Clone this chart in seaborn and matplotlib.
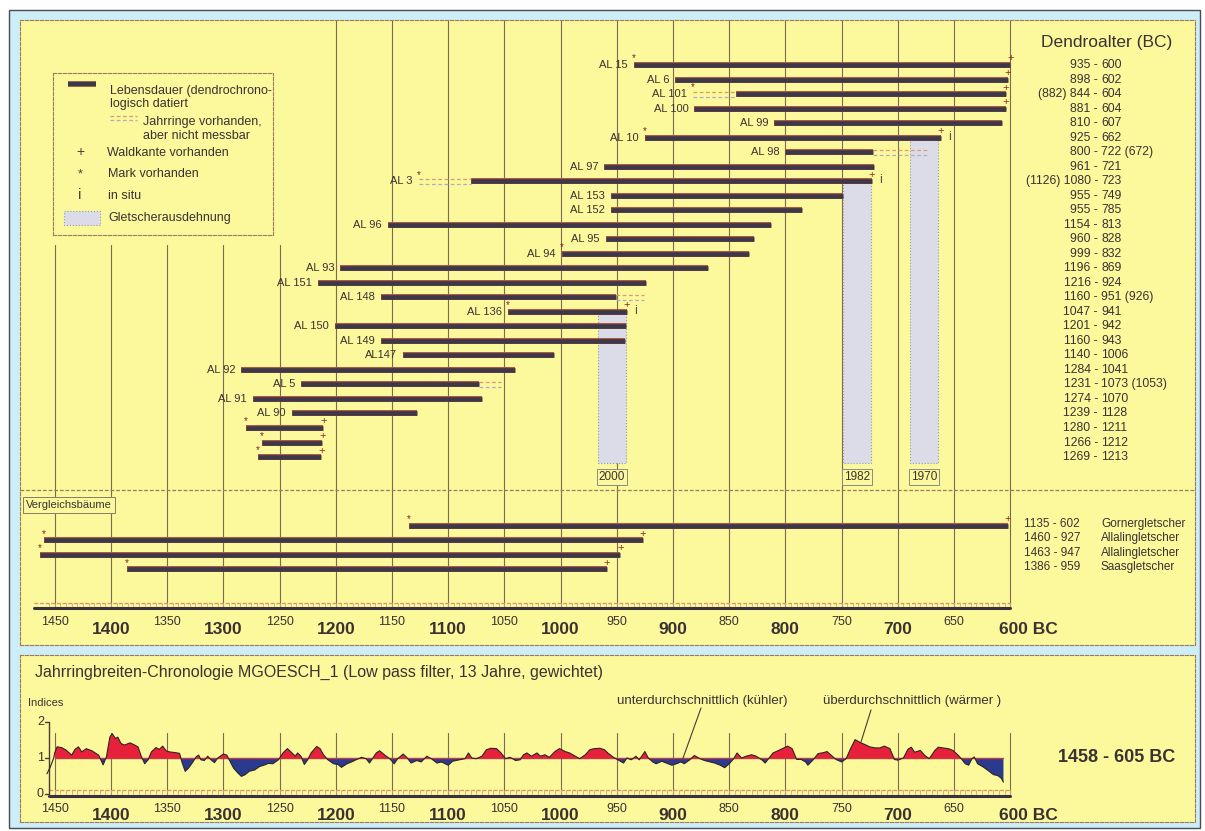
import numpy as np
import pandas as pd
import matplotlib
matplotlib.use("Agg")
import matplotlib.pyplot as plt
from matplotlib.patches import Rectangle
from matplotlib import font_manager
import seaborn as sns

# ---------------------------------------------------------------- data
tree_names = ['AL 15', 'AL 6', 'AL 101', 'AL 100', 'AL 99', 'AL 10', 'AL 98', 'AL 97',
              'AL 3', 'AL 153', 'AL 152', 'AL 96', 'AL 95', 'AL 94', 'AL 93', 'AL 151',
              'AL 148', 'AL 136', 'AL 150', 'AL 149', 'AL147', 'AL 92', 'AL 5', 'AL 91',
              'AL 90', '', '', '']
tree_start = [935, 898, 844, 881, 810, 925, 800, 961, 1080, 955, 955, 1154, 960, 999,
              1196, 1216, 1160, 1047, 1201, 1160, 1140, 1284, 1231, 1274, 1239, 1280, 1266, 1269]
tree_end = [600, 602, 604, 604, 607, 662, 722, 721, 723, 749, 785, 813, 828, 832,
            869, 924, 951, 941, 942, 943, 1006, 1041, 1073, 1070, 1128, 1211, 1212, 1213]
# rings present but not measurable (before start / after end)
tree_pre = [None, None, 882, None, None, None, None, None, 1126, None, None, None, None, None,
            None, None, None, None, None, None, None, None, None, None, None, None, None, None]
tree_post = [None, None, None, None, None, None, 672, None, None, None, None, None, None, None,
             None, None, 926, None, None, None, None, None, 1053, None, None, None, None, None]
# * = Mark, + = Waldkante, i = in situ
tree_marks = ['*+', '+', '*+', '+', '', '*+i', '', '', '*+i', '', '', '', '', '*',
              '', '', '', '*+i', '', '', '', '', '', '', '', '*+', '*+', '*+']

comp_start = [1135, 1460, 1463, 1386]
comp_end = [602, 927, 947, 959]
comp_site = ['Gornergletscher', 'Allalingletscher', 'Allalingletscher', 'Saasgletscher']

glacier_label = ['2000', '1982', '1970']
glacier_from = [967, 749, 689]
glacier_to = [942, 724, 664]
glacier_tree = ['AL 136', 'AL 3', 'AL 10']

idx_year = [1457, 1454, 1451, 1450, 1448, 1444, 1440, 1435, 1432, 1429, 1426, 1422, 1417, 1411,
            1407, 1404, 1401, 1399, 1396, 1394, 1391, 1388, 1383, 1379, 1376, 1373, 1370, 1367,
            1364, 1360, 1357, 1354, 1351, 1348, 1343, 1339, 1337, 1334, 1331, 1328, 1324, 1322,
            1320, 1317, 1314, 1311, 1308, 1305, 1300, 1297, 1294, 1291, 1287, 1284, 1281, 1277,
            1272, 1268, 1263, 1260, 1256, 1251, 1247, 1243, 1239, 1236, 1234, 1231, 1228, 1225,
            1222, 1217, 1214, 1211, 1207, 1202, 1198, 1195, 1190, 1186, 1182, 1177, 1173, 1170,
            1167, 1164, 1161, 1156, 1152, 1148, 1145, 1140, 1137, 1133, 1128, 1124, 1119, 1115,
            1110, 1106, 1100, 1096, 1090, 1085, 1082, 1079, 1075, 1070, 1066, 1062, 1057, 1053,
            1049, 1045, 1040, 1036, 1033, 1030, 1026, 1021, 1018, 1014, 1010, 1005, 1001, 996,
            992, 987, 983, 978, 974, 970, 965, 961, 958, 953, 949, 944, 941, 937, 933, 930,
            925, 922, 918, 915, 910, 906, 901, 897, 893, 890, 885, 881, 876, 872, 867, 863,
            858, 854, 850, 846, 843, 839, 835, 830, 826, 821, 818, 815, 811, 806, 802, 798,
            794, 790, 786, 782, 780, 775, 771, 766, 763, 759, 755, 750, 746, 742, 738, 734,
            729, 725, 720, 716, 712, 707, 703, 700, 695, 691, 688, 685, 680, 676, 672, 667,
            664, 660, 655, 651, 646, 643, 640, 637, 634, 632, 629, 624, 620, 615, 611, 608, 606]
idx_val = [0.56, 0.75, 1.00, 1.15, 1.31, 1.29, 1.22, 1.08, 1.24, 1.31, 1.17, 1.26, 1.20, 1.08,
           0.81, 1.04, 1.58, 1.68, 1.54, 1.58, 1.40, 1.36, 1.42, 1.36, 1.31, 1.04, 0.84, 0.95,
           1.17, 1.29, 1.24, 1.33, 1.20, 1.17, 1.15, 1.13, 0.90, 0.63, 0.72, 0.85, 1.04, 1.08,
           0.95, 0.93, 1.05, 0.95, 0.87, 1.00, 1.11, 1.08, 0.90, 0.72, 0.58, 0.49, 0.53, 0.63,
           0.67, 0.76, 0.81, 0.85, 0.84, 0.95, 1.14, 1.26, 1.14, 1.05, 1.14, 1.05, 0.82, 0.95,
           1.14, 1.32, 1.26, 1.09, 0.95, 0.84, 0.82, 0.74, 0.84, 0.89, 0.95, 1.02, 0.98, 0.86,
           1.00, 1.14, 1.20, 1.07, 0.98, 0.84, 0.98, 1.11, 1.02, 0.86, 0.93, 0.89, 1.05, 0.98,
           0.86, 0.89, 0.80, 0.91, 0.95, 0.98, 1.14, 1.00, 0.98, 1.05, 1.23, 1.27, 1.26, 1.14,
           0.98, 1.02, 0.93, 0.95, 1.09, 1.14, 1.05, 1.14, 1.05, 1.09, 1.02, 1.18, 1.26, 1.18,
           1.14, 1.05, 0.98, 1.09, 1.23, 1.26, 1.27, 1.23, 1.14, 1.02, 0.95, 0.86, 1.00, 0.95,
           1.05, 0.95, 1.18, 1.00, 0.89, 0.84, 0.91, 0.86, 0.80, 0.84, 0.89, 0.84, 0.95, 1.07,
           0.98, 0.93, 0.89, 0.86, 0.80, 0.73, 0.84, 0.98, 1.14, 1.00, 1.05, 1.09, 1.05, 0.95,
           0.86, 0.98, 1.14, 1.21, 1.27, 1.33, 1.26, 0.96, 0.96, 0.89, 0.80, 0.96, 1.12, 1.15,
           1.18, 1.07, 0.96, 0.89, 0.98, 1.26, 1.51, 1.44, 1.37, 1.31, 1.28, 1.28, 1.33, 1.26,
           0.96, 0.94, 1.00, 1.24, 1.30, 1.16, 1.21, 1.07, 0.98, 1.21, 1.30, 1.28, 1.26, 1.21,
           1.07, 0.96, 0.84, 0.80, 0.98, 1.03, 0.84, 0.75, 0.66, 0.54, 0.51, 0.44, 0.33]

axis_small = [1450, 1350, 1250, 1150, 1050, 950, 850, 750, 650]
axis_big = [1400, 1300, 1200, 1100, 1000, 900, 800, 700]
grid_years = list(range(1450, 599, -50))

# ---------------------------------------------------------------- style
sns.set_style("white")
names = {f.name for f in font_manager.fontManager.ttflist}
NARROW = 'Liberation Sans Narrow' if 'Liberation Sans Narrow' in names else 'Liberation Sans'
BIGSZ = 14 if NARROW == 'Liberation Sans Narrow' else 12.5
SMALLSZ = 10.5 if NARROW == 'Liberation Sans Narrow' else 9
plt.rcParams['font.family'] = ['Liberation Sans', 'DejaVu Sans']

YELLOW = '#fcf89c'
BLUEBG = '#cdeef6'
FRAME = '#9c7c5c'
TXT = '#3a3232'
BAR = '#3d3747'
BAR_EDGE = '#a9523e'
GRID = '#7c6a52'
RED = '#e8213a'
NAVY = '#2a3a8c'

W, H = 1205, 831
fig = plt.figure(figsize=(W / 100, H / 100), dpi=100)
fig.patch.set_facecolor('white')

# pixel -> data helpers (layout only)
def yr(px):
    return 1400.0 - (px - 111.0) / 1.124

def row(py):
    return (py - 65.0) / 14.52

def val(py):
    return 1.0 + (758.0 - py) / 36.0

PT = 0.72  # points per pixel

# background frame
bg = fig.add_axes([0, 0, 1, 1])
bg.set_xlim(0, W); bg.set_ylim(H, 0); bg.axis('off')
bg.add_patch(Rectangle((9, 10), 1191, 818, fc=BLUEBG, ec='#4a4a58', lw=1.0))

def panel(x0, y0, x1, y1):
    ax = fig.add_axes([x0 / W, 1 - y1 / H, (x1 - x0) / W, (y1 - y0) / H])
    ax.set_facecolor(YELLOW)
    for s in ax.spines.values():
        s.set_visible(True); s.set_color(FRAME); s.set_linewidth(0.8); s.set_linestyle((0, (3, 1.5)))
    ax.set_xticks([]); ax.set_yticks([])
    ax.set_xlim(yr(x0), yr(x1))
    return ax

# ================================================================ top panel
ax = panel(20, 20, 1195, 645)
ax.set_ylim(row(645), row(20))

# grid lines
for g in grid_years:
    top = row(245) if g > 1240 else row(20)
    ax.plot([g, g], [top, row(607)], color=GRID, lw=0.8, zorder=1)
ax.axhline(row(490), color=FRAME, lw=0.9, ls=(0, (3, 1.5)), zorder=1)

def hbar(a, y, x0, x1, lw_px=4.6):
    a.plot([x0, x1], [y, y], color=BAR_EDGE, lw=(lw_px + 1.3) * PT, solid_capstyle='butt', zorder=3)
    a.plot([x0, x1], [y, y], color=BAR, lw=lw_px * PT, solid_capstyle='butt', zorder=4)

def ext(a, y, x0, x1):
    for dy, c in ((-0.17, '#dc9a74'), (0.17, '#b4aac4')):
        a.plot([x0, x1], [y + dy, y + dy], color=c, lw=0.9, ls=(0, (3, 2)), zorder=3)

rows = np.arange(len(tree_names))
name_row = dict(zip(tree_names, rows))

# glacier extents
for lab, gf, gt, tr in zip(glacier_label, glacier_from, glacier_to, glacier_tree):
    top = name_row[tr] + 0.15
    ax.add_patch(Rectangle((gt, top), gf - gt, row(463) - top, fc='#dcdce8', ec='#9a9aae',
                           lw=0.8, ls=':', zorder=2))
    ax.text((gf + gt) / 2, row(477), lab, ha='center', va='center', fontsize=8.5, color=TXT,
            bbox=dict(boxstyle='square,pad=0.15', fc=YELLOW, ec='#8a8a8a', lw=0.7), zorder=5)

dash_l = yr(1098)
dash_r = yr(1101.5)
for i, (nm, s, e, pre, post, mk) in enumerate(zip(tree_names, tree_start, tree_end,
                                                 tree_pre, tree_post, tree_marks)):
    y = rows[i]
    hbar(ax, y, s, e)
    first = s
    if pre is not None:
        ext(ax, y, pre, s); first = pre
    if post is not None:
        ext(ax, y, e, post)
    if nm:
        ax.text(first + 6 / 1.124, y, nm, ha='right', va='center', fontsize=8, color=TXT, zorder=5)
    if '*' in mk:
        ax.text(first, y - 0.45, '*', ha='center', va='center', fontsize=7, color='#7a2424', zorder=5)
    if '+' in mk:
        ax.text(e, y - 0.45, '+', ha='center', va='center', fontsize=8, color='#8c2a2a', zorder=5)
    if 'i' in mk:
        ax.text(e - 9 / 1.124, y - 0.05, 'i', ha='center', va='center', fontsize=9, color='#5a4e4e', zorder=5)
    pre_s = f'({pre}) ' if pre is not None else ''
    post_s = f' ({post})' if post is not None else ''
    ax.text(dash_l, y, f'{pre_s}{s} -', ha='right', va='center', fontsize=8.8, color=TXT)
    ax.text(dash_r, y, f'{e}{post_s}', ha='left', va='center', fontsize=8.8, color=TXT)

ax.text(yr(1107), row(43), 'Dendroalter (BC)', ha='center', va='center', fontsize=12.5, color=TXT)

# comparison trees
ax.text(yr(26), row(505), 'Vergleichsbäume', ha='left', va='center', fontsize=8, color=TXT,
        bbox=dict(boxstyle='square,pad=0.25', fc=YELLOW, ec='#8a7a6a', lw=0.7), zorder=5)
comp_rows = row(526) + np.arange(len(comp_start)) * 0.99
for y, s, e, site in zip(comp_rows, comp_start, comp_end, comp_site):
    hbar(ax, y, s, e)
    ax.text(s, y - 0.45, '*', ha='center', va='center', fontsize=7, color='#7a2424', zorder=5)
    ax.text(e, y - 0.45, '+', ha='center', va='center', fontsize=8, color='#8c2a2a', zorder=5)
    ax.text(yr(1024), y - 0.15, f'{s} - {e}', ha='left', va='center', fontsize=8.5, color=TXT)
    ax.text(yr(1101), y - 0.15, site, ha='left', va='center', fontsize=8.5, color=TXT)

# ruler
def ruler(a, y_dash, y_solid, x_left):
    a.plot([x_left, 600], [y_dash, y_dash], color='#d49468', lw=0.9, ls=(0, (3, 1.5)), zorder=2)
    for t in range(1455, 599, -5):
        a.plot([t, t], [y_dash, y_dash + (y_solid - y_dash) * 0.7], color='#d4a478', lw=0.6, zorder=2)
    a.plot([x_left, 600], [y_solid, y_solid], color='#3a3040', lw=2.2, zorder=3)

ruler(ax, row(603), row(607.5), yr(34))

def axis_labels(a, y_small, y_big):
    for t in axis_small:
        a.text(t, y_small, str(t), ha='center', va='center', fontsize=SMALLSZ, color=TXT,
               family=[NARROW, 'Liberation Sans'])
    for t in axis_big:
        a.text(t, y_big, str(t), ha='center', va='center', fontsize=BIGSZ, color=TXT,
               fontweight='bold', family=[NARROW, 'Liberation Sans'])
    a.text(yr(999), y_big, '600 BC', ha='left', va='center', fontsize=BIGSZ, color=TXT,
           fontweight='bold', family=[NARROW, 'Liberation Sans'])

axis_labels(ax, row(622), row(630))

# ================================================================ legend
lg = fig.add_axes([53 / W, 1 - 235 / H, 220 / W, 162 / H])
lg.set_zorder(5)
lg.set_xlim(53, 273); lg.set_ylim(235, 73)
lg.set_facecolor(YELLOW)
lg.set_xticks([]); lg.set_yticks([])
for s in lg.spines.values():
    s.set_visible(True); s.set_color(FRAME); s.set_linewidth(0.8); s.set_linestyle((0, (3, 1.5)))
lg.plot([68, 96], [84, 84], color=BAR_EDGE, lw=5.6 * PT, solid_capstyle='butt')
lg.plot([68, 96], [84, 84], color=BAR, lw=4.4 * PT, solid_capstyle='butt')
lkw = dict(ha='left', va='center', fontsize=9, color=TXT)
lg.text(110, 91, 'Lebensdauer (dendrochrono-', **lkw)
lg.text(110, 104, 'logisch datiert', **lkw)
lg.plot([110, 137], [115.5, 115.5], color='#dc9a74', lw=0.9, ls=(0, (3, 2)))
lg.plot([110, 137], [120, 120], color='#b4aac4', lw=0.9, ls=(0, (3, 2)))
lg.text(143, 122, 'Jahrringe vorhanden,', **lkw)
lg.text(143, 136, 'aber nicht messbar', **lkw)
lg.text(80, 152, '+', ha='center', va='center', fontsize=10, color='#5a3a3a')
lg.text(107, 153, 'Waldkante vorhanden', **lkw)
lg.text(80, 174, '*', ha='center', va='center', fontsize=9, color='#5a3a3a')
lg.text(108, 174, 'Mark vorhanden', **lkw)
lg.text(80, 195, 'i', ha='center', va='center', fontsize=11, color='#5a3a3a')
lg.text(108, 196, 'in situ', **lkw)
lg.add_patch(Rectangle((64, 211), 36, 14, fc='#dcdce8', ec='#9a9aae', lw=0.8, ls=':'))
lg.text(108, 218, 'Gletscherausdehnung', **lkw)

# ================================================================ bottom panel
axb = panel(20, 655, 1195, 822)
axb.set_ylim(val(822), val(655))

for g in grid_years:
    axb.plot([g, g], [val(733), val(796)], color=GRID, lw=0.8, zorder=1)

df = pd.DataFrame({'year': idx_year, 'index': idx_val}).sort_values('year')
yy = df['year'].to_numpy(); vv = df['index'].to_numpy()
m = yy <= 1450
axb.fill_between(yy[m], 1, vv[m], where=vv[m] >= 1, interpolate=True, color=RED, lw=0, zorder=2)
axb.fill_between(yy[m], 1, vv[m], where=vv[m] <= 1, interpolate=True, color=NAVY, lw=0, zorder=2)
axb.plot([1450, yy.min()], [1, 1], color='#c23a4a', lw=1.0, zorder=3)
sns.lineplot(data=df, x='year', y='index', ax=axb, color='#2e2424', lw=0.8, zorder=4, legend=False)
axb.set_xlabel(''); axb.set_ylabel('')
axb.set_xticks([]); axb.set_yticks([])
axb.set_xlim(yr(20), yr(1195)); axb.set_ylim(val(822), val(655))

ruler(axb, val(790), val(796), yr(49))

# y axis
xa = yr(49)
axb.plot([xa, xa], [2, val(796)], color='#4a3a3a', lw=1.0, zorder=3)
for t in (0, 1, 2):
    axb.plot([yr(45.5), xa], [t, t], color='#4a3a3a', lw=1.0, zorder=3)
    axb.text(yr(44), t, str(t), ha='right', va='center', fontsize=9, color=TXT)
axb.text(yr(28), val(703), 'Indices', ha='left', va='center', fontsize=8, color=TXT)

axb.text(yr(35), val(672), 'Jahrringbreiten-Chronologie MGOESCH_1 (Low pass filter, 13 Jahre, gewichtet)',
         ha='left', va='center', fontsize=11.5, color=TXT)
axb.text(yr(1117), val(757), '1458 - 605 BC', ha='center', va='center', fontsize=BIGSZ + 0.5,
         fontweight='bold', color=TXT, family=[NARROW, 'Liberation Sans'])

axb.text(yr(702), val(701), 'unterdurchschnittlich (kühler)', ha='center', va='center',
         fontsize=9.5, color=TXT)
axb.text(yr(912), val(701), 'überdurchschnittlich (wärmer )', ha='center', va='center',
         fontsize=9.5, color=TXT)
axb.plot([yr(701), yr(682)], [val(708), val(761)], color='#4a3a3a', lw=0.8, zorder=5)
axb.plot([yr(871), yr(861)], [val(710), val(742)], color='#4a3a3a', lw=0.8, zorder=5)

axis_labels(axb, val(809), val(815))

fig.savefig('out.png', dpi=100, facecolor=fig.get_facecolor())
